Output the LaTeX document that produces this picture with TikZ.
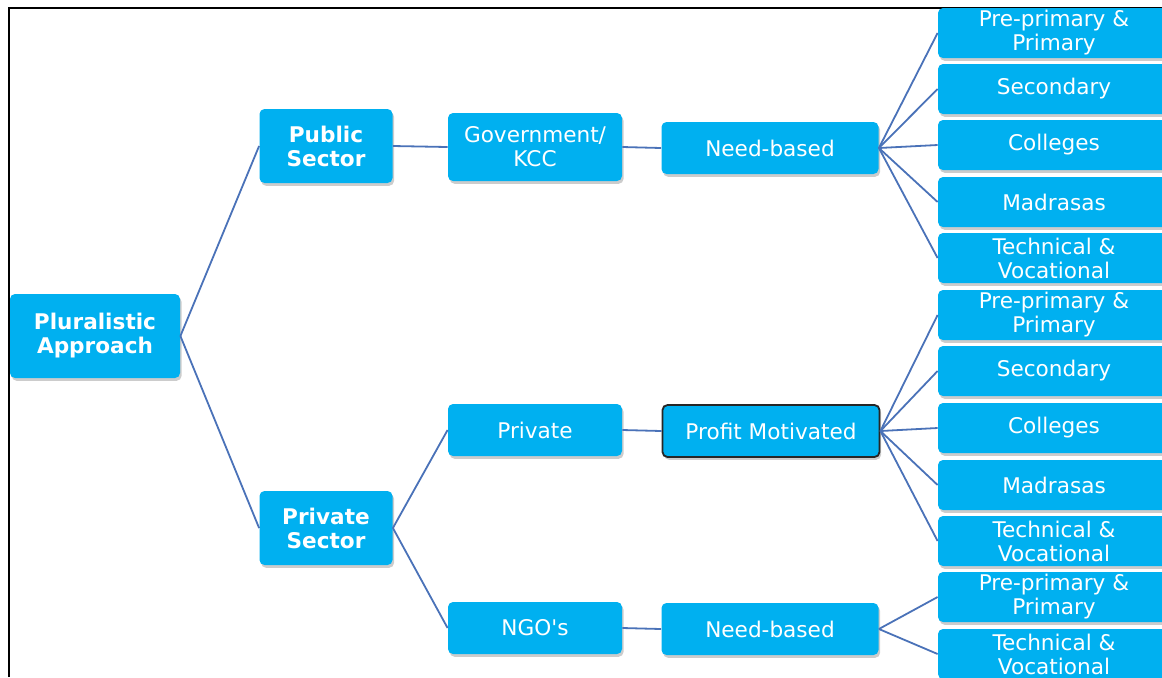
\documentclass[tikz,border=0pt]{standalone}
\usepackage{fontspec}
\setmainfont{DejaVu Sans}
\usetikzlibrary{shadows}

\definecolor{boxblue}{HTML}{00B0F0}
\definecolor{linkblue}{HTML}{4A72B8}

\tikzset{
  box/.style={fill=boxblue, text=white, rounded corners=2.5pt, align=center, inner sep=0pt,
    font=\fontsize{10.8}{12}\selectfont,
    drop shadow={opacity=0.4, shadow xshift=0.8pt, shadow yshift=-1.4pt}},
  headbox/.style={box, font=\fontsize{10.8}{12}\selectfont\bfseries},
  midbox/.style={box, minimum width=87pt, minimum height=26pt},
  kindbox/.style={box, minimum width=108.5pt, minimum height=26pt},
  leafbox/.style={box, minimum width=116pt, minimum height=25pt},
  link/.style={draw=linkblue, line width=0.9pt},
}

\begin{document}
\begin{tikzpicture}[x=0.5pt, y=-0.5pt]

    \useasboundingbox (0,0) rectangle (1162,677);
    \clip (0,0) rectangle (1162,677);

    % Frame
    \draw[line width=1pt] (9,677) -- (9,8) -- (1162,8);

    % Main branches
    \node[headbox, minimum width=85pt, minimum height=42pt] (plural) at (95,336) {Pluralistic\\Approach};
    \node[headbox, minimum width=66.5pt, minimum height=37pt] (public) at (326,146) {Public\\Sector};
    \node[headbox, minimum width=66.5pt, minimum height=37pt] (private) at (326,528) {Private\\Sector};

    \node[midbox, minimum height=34pt] (gov) at (535,147) {Government/\\KCC};
    \node[midbox] (priv) at (535,430) {Private};
    \node[midbox] (ngo) at (535,628) {NGO\textquotesingle s};

    \node[kindbox] (needA) at (770,148) {Need-based};
    \node[kindbox, draw=black!85, line width=0.9pt] (profit) at (771,431) {Profit Motivated};
    \node[kindbox] (needB) at (770,629) {Need-based};

    \draw[link] (plural.east) -- (public.west);
    \draw[link] (plural.east) -- (private.west);
    \draw[link] (public.east) -- (gov.west);
    \draw[link] (private.east) -- (priv.west);
    \draw[link] (private.east) -- (ngo.west);
    \draw[link] (gov.east) -- (needA.west);
    \draw[link] (priv.east) -- (profit.west);
    \draw[link] (ngo.east) -- (needB.west);

    % Institution levels
    \foreach \lbl/\yy [count=\i] in {{Pre-primary \&\\Primary}/33, Secondary/89, Colleges/145,
        Madrasas/202, {Technical \&\\Vocational}/258} {
        \node[leafbox] (leafA\i) at (1054,\yy) {\lbl};
        \draw[link] (needA.east) -- (leafA\i.west);
    }
    \foreach \lbl/\yy [count=\i] in {{Pre-primary \&\\Primary}/315, Secondary/371, Colleges/428,
        Madrasas/485, {Technical \&\\Vocational}/541} {
        \node[leafbox] (leafB\i) at (1054,\yy) {\lbl};
        \draw[link] (profit.east) -- (leafB\i.west);
    }
    \foreach \lbl/\yy [count=\i] in {{Pre-primary \&\\Primary}/597, {Technical \&\\Vocational}/654} {
        \node[leafbox] (leafC\i) at (1054,\yy) {\lbl};
        \draw[link] (needB.east) -- (leafC\i.west);
    }
  \end{tikzpicture}
\end{document}
